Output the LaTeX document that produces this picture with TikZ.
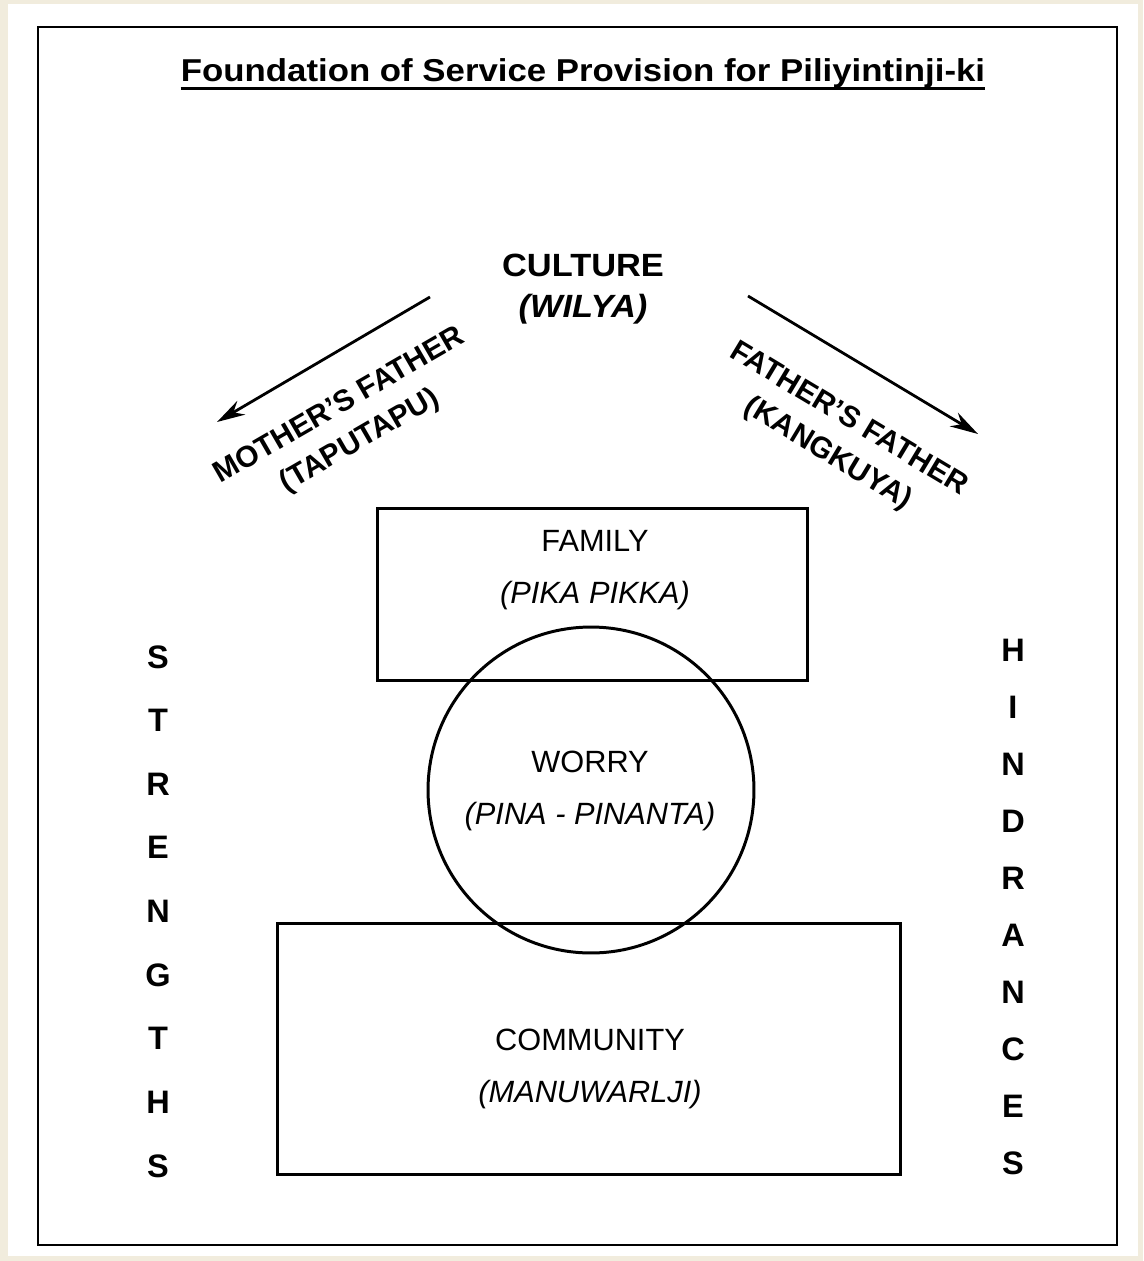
\documentclass[tikz,border=0pt]{standalone}
\usepackage{fontspec}
\setmainfont{Liberation Sans}
\usepackage{tikz}
\usetikzlibrary{shapes.geometric, arrows.meta, positioning, calc}

\definecolor{pagebeige}{RGB}{241,236,221}

\tikzset{
  lbl/.style={font=\fontsize{17.5}{20}\selectfont, align=center, inner sep=0pt},
  boldlbl/.style={lbl, font=\fontsize{17}{20}\selectfont\bfseries},
  letterlbl/.style={lbl, font=\fontsize{18.5}{20}\selectfont\bfseries},
  framebox/.style={draw, rectangle, line width=1.7pt},
  kinarrow/.style={-{Stealth[length=16pt,width=9pt]}, line width=1.6pt},
}

\begin{document}
\begin{tikzpicture}[x=0.02cm, y=-0.02cm]
% page and frame
\fill[pagebeige] (0,0) rectangle (1143,1261);
\fill[white] (8,4) rectangle (1138,1256);
\draw[line width=1.2pt] (38,27) rectangle (1117,1245);
\useasboundingbox (0,0) rectangle (1143,1261);

% Title
\node[lbl, font=\fontsize{18}{21}\selectfont\bfseries\addfontfeature{FakeStretch=1.1}] (title) at (583,73) {Foundation of Service Provision for Piliyintinji-ki};
\draw[line width=1.5pt] ([yshift=-4pt]title.base west) -- ([yshift=-4pt]title.base east);

% Culture and the two lines of descent
\node[lbl, font=\fontsize{18.3}{21}\selectfont\bfseries\addfontfeature{FakeStretch=1.07}] (culture) at (583,289) {CULTURE\\[2pt]\textit{(WILYA)}};

\coordinate (mfstart) at (430,297);
\coordinate (mfend) at (217,422);
\coordinate (ffstart) at (748,296);
\coordinate (ffend) at (978,434);
\draw[kinarrow] (mfstart) -- (mfend);
\draw[kinarrow] (ffstart) -- (ffend);

\node[boldlbl, rotate=30] (mother) at (350,424) {MOTHER'S FATHER\\[3pt](TAPUTAPU)};
\node[boldlbl, rotate=-31] (father) at (838,437) {FATHER'S FATHER\\[3pt](KANGKUYA)};

% Family, worry, community
\node[framebox, minimum width=8.62cm, minimum height=3.46cm] (family) at (592.5,594.5) {};
\node[lbl] (familytxt) at (595,570) {FAMILY\\[9.5pt]\textit{(PIKA PIKKA)}};

\node[draw, circle, line width=1.7pt, minimum size=6.52cm] (worry) at (591,790) {};
\node[lbl] (worrytxt) at (590,791) {WORRY\\[9.5pt]\textit{(PINA - PINANTA)}};

\node[framebox, minimum width=12.48cm, minimum height=5.04cm] (community) at (589,1049) {};
\node[lbl] (communitytxt) at (590,1069) {COMMUNITY\\[9.5pt]\textit{(MANUWARLJI)}};

% Side words, one letter per line
\foreach \c [count=\i] in {S,T,R,E,N,G,T,H,S}
  \node[letterlbl] (s\i) at (158,{657+63.6*(\i-1)}) {\c};
\foreach \c [count=\i] in {H,I,N,D,R,A,N,C,E,S}
  \node[letterlbl] (h\i) at (1013,{650+57*(\i-1)}) {\c};
\end{tikzpicture}
\end{document}
